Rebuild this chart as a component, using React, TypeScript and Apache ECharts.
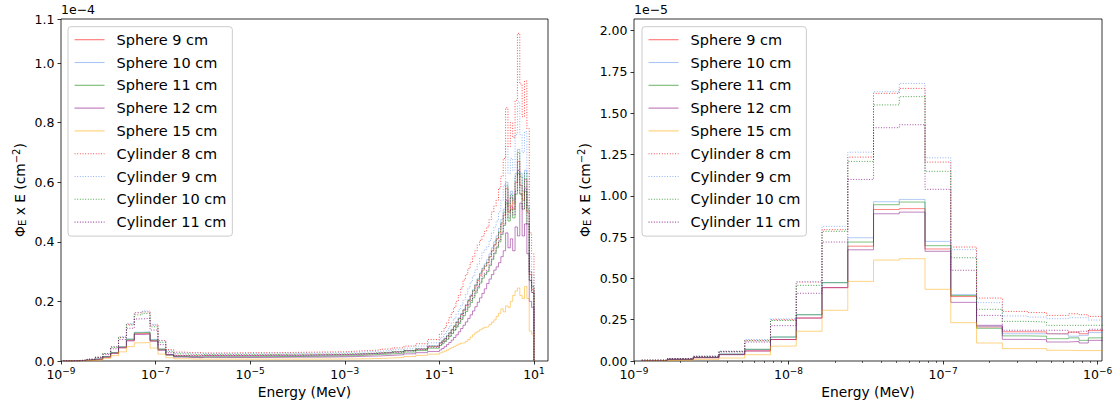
import React, { useEffect, useRef } from 'react';
import * as echarts from 'echarts';

// Bin edges in MeV
const edgesMeV = [
  1.122e-9, 1.647e-9, 2.418e-9, 3.548e-9, 5.208e-9, 7.644e-9, 1.122e-8, 1.647e-8, 2.418e-8, 3.548e-8,
  5.208e-8, 7.644e-8, 1.122e-7, 1.647e-7, 2.418e-7, 3.548e-7,
  4.677e-7, 6.457e-7, 7.586e-7, 8.71e-7, 1.122e-6,
  3.162e-6, 1e-5, 3.162e-5, 1e-4, 3.162e-4, 1e-3, 1.778e-3, 3.162e-3, 5.623e-3, 1e-2, 1.778e-2, 3.162e-2, 5.623e-2, 0.1,
  0.1122, 0.1259, 0.1413, 0.1585, 0.1778, 0.1995, 0.2239, 0.2512, 0.2818, 0.3162,
  0.3548, 0.3981, 0.4467, 0.5012, 0.5623, 0.631, 0.7079, 0.7943, 0.8913, 1.0,
  1.122, 1.259, 1.413, 1.585, 1.778, 1.995, 2.239, 2.512, 2.818, 3.162,
  3.548, 3.981, 4.467, 5.012, 5.623, 6.31, 7.079, 7.943, 8.913, 10.0,
];

// Values per bin, in units of 1e-5 cm^-2
const sphere9 = [
  0.003, 0.01, 0.02, 0.04, 0.062, 0.13, 0.26, 0.444, 0.695, 0.917, 0.922, 0.678, 0.39, 0.206, 0.177,
  0.176, 0.165, 0.175, 0.165, 0.184,
  0.18, 0.18, 0.19, 0.19, 0.2, 0.21, 0.22, 0.24, 0.26, 0.28, 0.31, 0.35, 0.4, 0.49,
  0.6, 0.67, 0.75, 0.84, 0.94, 1.05, 1.16, 1.29, 1.42, 1.56, 1.71, 1.86, 2.02, 2.18, 2.35, 2.52, 2.7, 2.88, 3.05, 3.18,
  3.3, 3.5, 3.7, 3.9, 4.1, 4.3, 4.6, 4.9, 5.8, 5.0, 5.5, 5.1, 6.0, 6.7, 5.9, 5.4, 6.1, 5.0, 2.9, 2.4,
];
const sphere10 = [
  0.003, 0.01, 0.022, 0.042, 0.07, 0.145, 0.28, 0.474, 0.746, 0.964, 0.978, 0.724, 0.402, 0.21, 0.165,
  0.165, 0.163, 0.15, 0.155, 0.172,
  0.17, 0.17, 0.18, 0.18, 0.19, 0.2, 0.22, 0.24, 0.26, 0.28, 0.31, 0.35, 0.41, 0.51,
  0.62, 0.69, 0.77, 0.86, 0.96, 1.07, 1.19, 1.32, 1.45, 1.59, 1.74, 1.9, 2.06, 2.22, 2.39, 2.57, 2.76, 2.95, 3.12, 3.26,
  3.4, 3.6, 3.8, 4.0, 4.2, 4.45, 4.75, 5.1, 6.0, 5.3, 5.7, 5.4, 6.3, 7.1, 6.3, 5.7, 6.4, 5.2, 3.0, 2.5,
];
const sphere11 = [
  0.003, 0.01, 0.022, 0.041, 0.071, 0.145, 0.28, 0.474, 0.72, 0.946, 0.962, 0.698, 0.396, 0.198, 0.152,
  0.15, 0.135, 0.14, 0.125, 0.14,
  0.14, 0.14, 0.15, 0.15, 0.16, 0.17, 0.18, 0.2, 0.22, 0.24, 0.26, 0.3, 0.35, 0.43,
  0.52, 0.58, 0.65, 0.73, 0.82, 0.92, 1.03, 1.14, 1.26, 1.39, 1.52, 1.66, 1.81, 1.96, 2.12, 2.28, 2.45, 2.62, 2.78, 2.9,
  3.0, 3.2, 3.4, 3.6, 3.8, 4.0, 4.25, 4.55, 5.3, 4.7, 5.1, 4.8, 5.6, 6.3, 5.6, 5.1, 5.7, 4.6, 2.7, 2.3,
];
const sphere12 = [
  0.003, 0.01, 0.02, 0.038, 0.06, 0.13, 0.26, 0.444, 0.673, 0.891, 0.901, 0.664, 0.355, 0.216, 0.131,
  0.129, 0.115, 0.118, 0.109, 0.125,
  0.12, 0.12, 0.12, 0.13, 0.13, 0.14, 0.15, 0.16, 0.17, 0.19, 0.21, 0.24, 0.28, 0.32,
  0.37, 0.42, 0.48, 0.55, 0.62, 0.7, 0.79, 0.88, 0.98, 1.09, 1.2, 1.31, 1.43, 1.55, 1.68, 1.82, 1.97, 2.12, 2.27, 2.42,
  2.6, 2.75, 2.9, 3.05, 3.16, 3.3, 3.5, 3.7, 4.3, 3.8, 4.1, 3.7, 4.5, 4.2, 5.3, 4.2, 4.6, 3.6, 2.0, 1.8,
];
const sphere15 = [
  0.002, 0.005, 0.01, 0.018, 0.038, 0.09, 0.18, 0.307, 0.482, 0.611, 0.619, 0.434, 0.232, 0.109, 0.075,
  0.075, 0.065, 0.063, 0.063, 0.063,
  0.063, 0.062, 0.062, 0.063, 0.064, 0.066, 0.07, 0.075, 0.085, 0.1, 0.12, 0.15, 0.19, 0.23,
  0.27, 0.3, 0.33, 0.37, 0.41, 0.45, 0.49, 0.53, 0.57, 0.6, 0.62, 0.66, 0.72, 0.8, 0.88, 0.95, 1.0, 1.05, 1.1, 1.13,
  1.15, 1.22, 1.3, 1.38, 1.5, 1.6, 1.75, 1.65, 1.85, 1.8, 2.0, 2.2, 2.35, 2.45, 2.2, 2.1, 2.5, 2.1, 1.0, 0.9,
];
const cylinder8 = [
  0.005, 0.015, 0.028, 0.058, 0.125, 0.25, 0.478, 0.795, 1.234, 1.62, 1.65, 1.204, 0.69, 0.381, 0.3,
  0.293, 0.276, 0.286, 0.28, 0.27,
  0.27, 0.28, 0.28, 0.29, 0.3, 0.31, 0.33, 0.35, 0.37, 0.4, 0.44, 0.5, 0.58, 0.72,
  0.9, 1.0, 1.12, 1.28, 1.45, 1.62, 1.8, 2.0, 2.2, 2.45, 2.72, 2.9, 3.1, 3.3, 3.5, 3.7, 3.9, 4.05, 4.2, 4.35,
  4.5, 4.75, 5.0, 5.2, 5.4, 5.8, 6.2, 6.8, 8.5, 7.2, 8.0, 7.5, 8.75, 11.0, 9.3, 8.2, 9.4, 7.8, 4.3, 3.6,
];
const cylinder9 = [
  0.005, 0.015, 0.03, 0.06, 0.13, 0.255, 0.48, 0.815, 1.264, 1.63, 1.68, 1.23, 0.674, 0.353, 0.273,
  0.266, 0.256, 0.262, 0.262, 0.248,
  0.25, 0.25, 0.26, 0.26, 0.27, 0.28, 0.29, 0.31, 0.33, 0.35, 0.38, 0.43, 0.5, 0.61,
  0.74, 0.82, 0.92, 1.03, 1.15, 1.28, 1.42, 1.57, 1.72, 1.88, 2.05, 2.25, 2.45, 2.65, 2.85, 3.05, 3.25, 3.45, 3.65, 3.75,
  3.84, 4.05, 4.3, 4.5, 4.7, 5.0, 5.4, 5.9, 7.2, 6.3, 6.8, 6.4, 7.6, 8.7, 7.6, 7.0, 7.7, 6.3, 3.5, 2.9,
];
const cylinder10 = [
  0.005, 0.015, 0.028, 0.057, 0.122, 0.245, 0.458, 0.785, 1.208, 1.55, 1.6, 1.148, 0.625, 0.313, 0.24,
  0.236, 0.216, 0.216, 0.216, 0.216,
  0.22, 0.22, 0.22, 0.23, 0.23, 0.24, 0.25, 0.26, 0.28, 0.3, 0.32, 0.36, 0.41, 0.5,
  0.6, 0.67, 0.75, 0.84, 0.94, 1.05, 1.17, 1.3, 1.43, 1.57, 1.71, 1.87, 2.03, 2.2, 2.37, 2.55, 2.75, 2.95, 3.1, 3.2,
  3.3, 3.5, 3.7, 3.9, 4.1, 4.35, 4.65, 5.0, 5.9, 5.2, 5.6, 5.3, 6.2, 7.0, 6.2, 5.6, 6.3, 5.1, 3.0, 2.5,
];
const cylinder11 = [
  0.005, 0.014, 0.026, 0.055, 0.115, 0.214, 0.41, 0.72, 1.099, 1.412, 1.43, 1.039, 0.549, 0.276, 0.186,
  0.186, 0.186, 0.175, 0.18, 0.192,
  0.19, 0.19, 0.2, 0.2, 0.21, 0.22, 0.23, 0.24, 0.26, 0.28, 0.3, 0.34, 0.38, 0.46,
  0.55, 0.61, 0.68, 0.76, 0.85, 0.95, 1.06, 1.18, 1.3, 1.44, 1.6, 1.74, 1.88, 2.03, 2.18, 2.34, 2.51, 2.68, 2.85, 2.95,
  3.05, 3.25, 3.45, 3.65, 3.85, 4.05, 4.3, 4.6, 5.4, 4.8, 5.2, 4.9, 5.7, 6.4, 5.6, 5.1, 5.8, 4.6, 2.7, 2.3,
];

const seriesNames = [
  'Sphere 9 cm', 'Sphere 10 cm', 'Sphere 11 cm', 'Sphere 12 cm', 'Sphere 15 cm',
  'Cylinder 8 cm', 'Cylinder 9 cm', 'Cylinder 10 cm', 'Cylinder 11 cm',
];
const seriesValues = [sphere9, sphere10, sphere11, sphere12, sphere15, cylinder8, cylinder9, cylinder10, cylinder11];
const seriesColors = ['#ff0000', '#6495ed', '#008000', '#800080', '#ffa500', '#ff0000', '#6495ed', '#008000', '#800080'];
const seriesDotted = [false, false, false, false, false, true, true, true, true];

const leftTicks = [1e-9, 1e-7, 1e-5, 1e-3, 1e-1, 10];
const rightTicks = [1e-9, 1e-8, 1e-7, 1e-6];
const rightMinorTicks = [
  2e-9, 3e-9, 4e-9, 5e-9, 6e-9, 7e-9, 8e-9, 9e-9,
  2e-8, 3e-8, 4e-8, 5e-8, 6e-8, 7e-8, 8e-8, 9e-8,
  2e-7, 3e-7, 4e-7, 5e-7, 6e-7, 7e-7, 8e-7, 9e-7,
];

const FONT = 'DejaVu Sans';

function stepData(values: number[]) {
  const n = Math.min(values.length, edgesMeV.length - 1);
  const pts: number[][] = [];
  for (let i = 0; i < n; i++) pts.push([edgesMeV[i], values[i]]);
  pts.push([edgesMeV[n], values[n - 1]]);
  pts.push([edgesMeV[n], 0]);
  return pts;
}

const powLabel = (v: number) => {
  const e = Math.round(Math.log10(v));
  return '10{sup|' + (e < 0 ? '\u2212' + -e : String(e)) + '}';
};

const tickRich = {
  sup: { fontSize: 9, fontFamily: FONT, color: '#000', padding: [0, 0, 7, 0] },
};

export default function App() {
  const ref = useRef<HTMLDivElement>(null);
  useEffect(() => {
    if (!ref.current) return;
    const chart = echarts.init(ref.current, undefined, { renderer: 'svg' });

    const grids = [
      { left: 61, top: 19, right: 570, bottom: 46 },
      { left: 634, top: 19, right: 16, bottom: 46 },
    ];

    const series: any[] = [];
    for (let g = 0; g < 2; g++) {
      seriesNames.forEach((name, i) => {
        series.push({
          type: 'line',
          name,
          xAxisIndex: g,
          yAxisIndex: g,
          step: 'end',
          symbol: 'none',
          showSymbol: false,
          clip: true,
          data: stepData(seriesValues[i]),
          lineStyle: {
            color: seriesColors[i],
            width: seriesDotted[i] ? 1 : 0.9,
            opacity: seriesDotted[i] ? 0.7 : 0.55,
            type: seriesDotted[i] ? [1, 1.65] : 'solid',
          },
          itemStyle: { color: seriesColors[i] },
          emphasis: { disabled: true },
        });
      });
    }

    const xCommon = (gridIndex: number, max: number, ticks: number[]) => ({
      type: 'log',
      logBase: 10,
      gridIndex,
      position: 'bottom',
      min: 1e-9,
      max,
      axisLine: { show: false },
      splitLine: { show: false },
      minorTick: { show: false },
      axisTick: { show: true, customValues: ticks, length: 3.5, lineStyle: { color: '#000', width: 0.8 } },
      axisLabel: {
        customValues: ticks,
        formatter: powLabel,
        color: '#000',
        fontFamily: FONT,
        fontSize: 12.5,
        margin: 5,
        rich: tickRich,
      },
      name: 'Energy (MeV)',
      nameLocation: 'middle',
      nameGap: 16,
      nameTextStyle: { color: '#000', fontFamily: FONT, fontSize: 13.8 },
    });

    const yName = '\u03A6{sub|E} x E (cm{sup|\u22122})';
    const yNameStyle = {
      color: '#000',
      fontFamily: FONT,
      fontSize: 13.8,
      rich: {
        sub: { fontSize: 10, fontFamily: FONT, color: '#000', padding: [6, 0, 0, 0] },
        sup: { fontSize: 10, fontFamily: FONT, color: '#000', padding: [0, 0, 7, 0] },
      },
    };

    const legendCommon = {
      orient: 'vertical',
      top: 26.7,
      itemWidth: 30,
      itemHeight: 14,
      itemGap: 7.8,
      padding: [5.5, 6, 6.5, 6],
      borderColor: '#cccccc',
      borderWidth: 1,
      borderRadius: 3,
      backgroundColor: 'rgba(255,255,255,0.8)',
      selectedMode: false,
      data: seriesNames,
      itemStyle: { opacity: 0 },
      lineStyle: { width: 1.1 },
      textStyle: { fontFamily: FONT, fontSize: 14.5, color: '#000', padding: [0, 0, 0, 7] },
    };

    chart.setOption({
      animation: false,
      backgroundColor: '#fff',
      textStyle: { fontFamily: FONT },
      grid: grids.map((g) => ({ ...g, show: true, borderColor: '#000', borderWidth: 0.8, backgroundColor: 'transparent', containLabel: false })),
      xAxis: [
        xCommon(0, 19.8, leftTicks),
        xCommon(1, 1.068e-6, rightTicks),
        {
          type: 'log',
          logBase: 10,
          gridIndex: 1,
          position: 'bottom',
          min: 1e-9,
          max: 1.068e-6,
          axisLine: { show: false },
          splitLine: { show: false },
          axisLabel: { show: false },
          axisTick: { show: true, customValues: rightMinorTicks, length: 2, lineStyle: { color: '#000', width: 0.6 } },
        },
      ],
      yAxis: [
        {
          type: 'value',
          gridIndex: 0,
          min: 0,
          max: 11.48,
          interval: 2,
          axisLine: { show: false },
          splitLine: { show: false },
          axisTick: { show: true, length: 3.5, lineStyle: { color: '#000', width: 0.8 } },
          axisLabel: { formatter: (v: number) => (v / 10).toFixed(1), color: '#000', fontFamily: FONT, fontSize: 12.5, margin: 6.5 },
          name: yName,
          nameLocation: 'middle',
          nameGap: 33,
          nameTextStyle: yNameStyle,
        },
        {
          type: 'value',
          gridIndex: 1,
          min: 0,
          max: 2.07,
          interval: 0.25,
          axisLine: { show: false },
          splitLine: { show: false },
          axisTick: { show: true, length: 3.5, lineStyle: { color: '#000', width: 0.8 } },
          axisLabel: { formatter: (v: number) => v.toFixed(2), color: '#000', fontFamily: FONT, fontSize: 12.5, margin: 6.5 },
          name: yName,
          nameLocation: 'middle',
          nameGap: 41,
          nameTextStyle: yNameStyle,
        },
      ],
      legend: [
        { ...legendCommon, left: 68 },
        { ...legendCommon, left: 642 },
      ],
      graphic: [
        { type: 'text', left: 61, top: 3, style: { text: '1e\u22124', fontFamily: FONT, fontSize: 12.5, fill: '#000' } },
        { type: 'text', left: 634, top: 3, style: { text: '1e\u22125', fontFamily: FONT, fontSize: 12.5, fill: '#000' } },
      ],
      series,
    });

    return () => chart.dispose();
  }, []);

  return <div ref={ref} style={{ position: 'fixed', left: 0, top: 0, width: 1118, height: 407 }} />;
}
